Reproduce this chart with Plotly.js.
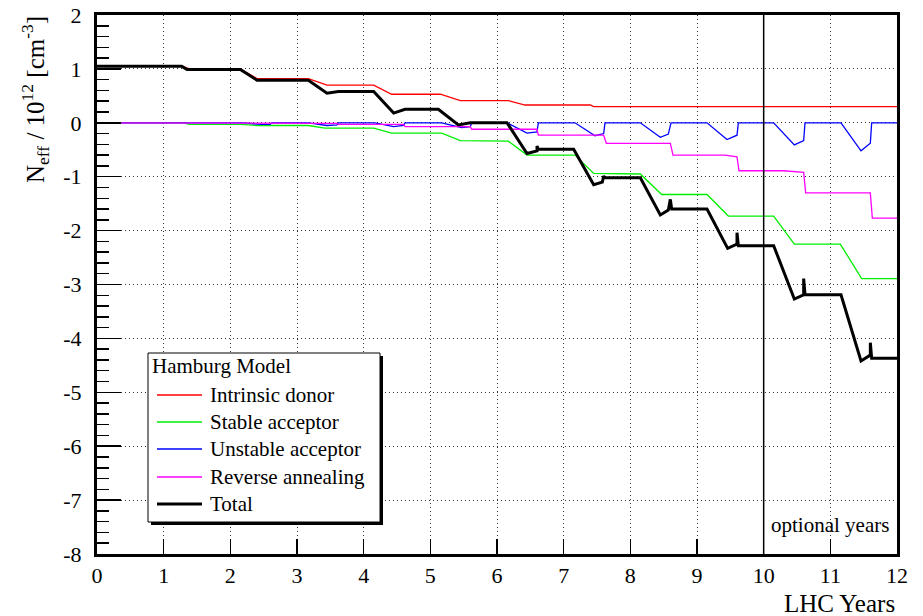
<!DOCTYPE html>
<html>
<head>
<meta charset="utf-8">
<script src="https://cdn.plot.ly/plotly-3.0.1.min.js"></script>
<style>html,body{margin:0;padding:0;background:#fff;}#chart{width:923px;height:616px;}</style>
</head>
<body>
<div id="chart"></div>
<script>
// ---- data ----
var donorYears  = [0, 1.27, 1.39, 2.15, 2.4, 3.17, 3.45, 4.15, 4.42, 5.15, 5.45, 6.17, 6.42, 7.4, 7.45, 12];
var donorValues = [1.05, 1.05, 1.0, 1.0, 0.82, 0.82, 0.70, 0.70, 0.53, 0.53, 0.41, 0.41, 0.33, 0.33, 0.30, 0.30];

var stableYears  = [0, 1.3, 1.38, 2.15, 2.4, 3.17, 3.42, 4.15, 4.42, 5.17, 5.45, 6.17, 6.45, 7.17, 7.45, 8.15, 8.47, 9.15, 9.47, 10.15, 10.46, 11.15, 11.47, 12];
var stableValues = [0, 0, -0.03, -0.03, -0.05, -0.05, -0.10, -0.10, -0.19, -0.19, -0.33, -0.34, -0.60, -0.60, -0.94, -0.95, -1.33, -1.33, -1.73, -1.73, -2.25, -2.25, -2.89, -2.89];

var unstableYears  = [0, 2.2, 2.45, 2.6, 2.62, 3.17, 3.45, 3.6, 3.62, 4.17, 4.45, 4.6, 4.62, 5.17, 5.47, 5.6, 5.62, 6.15, 6.45, 6.6, 6.62, 7.17, 7.47, 7.6, 7.62, 8.15, 8.45, 8.57, 8.61, 9.15, 9.45, 9.6, 9.62, 10.15, 10.46, 10.6, 10.62, 11.16, 11.46, 11.6, 11.62, 12];
var unstableValues = [0, 0, -0.03, -0.03, 0, 0, -0.05, -0.04, 0, 0, -0.07, -0.05, 0, 0, -0.09, -0.07, 0, 0, -0.19, -0.17, 0, 0, -0.24, -0.20, 0, 0, -0.27, -0.21, 0, 0, -0.31, -0.23, 0, 0, -0.41, -0.33, 0, 0, -0.52, -0.38, 0, 0];

var reverseYears  = [0, 2.6, 2.62, 3.6, 3.62, 4.6, 4.62, 5.6, 5.62, 6.6, 6.62, 7.6, 7.64, 8.6, 8.64, 9.42, 9.6, 9.63, 10.3, 10.6, 10.63, 11.6, 11.63, 12];
var reverseValues = [0, 0, -0.01, -0.01, -0.03, -0.03, -0.07, -0.07, -0.12, -0.12, -0.23, -0.23, -0.38, -0.38, -0.60, -0.60, -0.63, -0.89, -0.89, -0.92, -1.30, -1.30, -1.77, -1.77];

var totalYears  = [0, 1.27, 1.35, 2.15, 2.4, 3.17, 3.45, 3.62, 4.15, 4.45, 4.62, 5.12, 5.42, 5.6, 6.15, 6.45, 6.6, 6.6, 6.62, 7.15, 7.45, 7.58, 7.6, 7.62, 8.15, 8.45, 8.57, 8.6, 8.62, 9.15, 9.46, 9.6, 9.6, 9.62, 10.15, 10.46, 10.6, 10.6, 10.62, 11.16, 11.46, 11.6, 11.6, 11.62, 12];
var totalValues = [1.05, 1.05, 0.99, 0.99, 0.79, 0.79, 0.55, 0.58, 0.58, 0.18, 0.25, 0.25, -0.04, 0.0, 0.0, -0.57, -0.52, -0.43, -0.49, -0.49, -1.15, -1.10, -0.99, -1.02, -1.02, -1.71, -1.62, -1.42, -1.60, -1.60, -2.33, -2.25, -2.04, -2.28, -2.28, -3.27, -3.19, -2.89, -3.19, -3.19, -4.42, -4.31, -4.08, -4.37, -4.37];

var seriesNames = ['Intrinsic donor', 'Stable acceptor', 'Unstable acceptor', 'Reverse annealing', 'Total'];
var legendTitle = 'Hamburg Model';
var xTickValues = [0,1,2,3,4,5,6,7,8,9,10,11,12];
var yTickValues = [-8,-7,-6,-5,-4,-3,-2,-1,0,1,2];

var FONT = 'Liberation Serif';
var colors = ['#ff0000', '#00ee00', '#0000ff', '#ff00ff', '#000000'];
var widths = [1.3, 1.3, 1.3, 1.3, 3];

var xs = [donorYears, stableYears, unstableYears, reverseYears, totalYears];
var ys = [donorValues, stableValues, unstableValues, reverseValues, totalValues];
var traces = seriesNames.map(function(n, i){
  return {x: xs[i], y: ys[i], name: n, mode: 'lines', line: {color: colors[i], width: widths[i]}, showlegend: false};
});

function px2paperX(p){ return (p - 97) / 800; }
function px2paperY(p){ return (554 - p) / 539; }

var shapes = [
  {type: 'line', xref: 'x', yref: 'paper', x0: 10, x1: 10, y0: 0, y1: 1, line: {color: '#000', width: 1.5}, layer: 'above'},
  {type: 'rect', xref: 'paper', yref: 'paper', x0: px2paperX(151), x1: px2paperX(383), y0: px2paperY(525), y1: px2paperY(356), fillcolor: '#000', line: {width: 0}, layer: 'above'},
  {type: 'rect', xref: 'paper', yref: 'paper', x0: px2paperX(148), x1: px2paperX(380), y0: px2paperY(522), y1: px2paperY(353), fillcolor: '#fff', line: {color: '#000', width: 1}, layer: 'above'}
];
var annotations = [
  {text: 'optional years', xref: 'x', yref: 'y', x: 11.0, y: -7.46, showarrow: false, xanchor: 'center', yanchor: 'middle', font: {family: FONT, size: 21, color: '#000'}},
  {text: 'LHC Years', xref: 'paper', yref: 'paper', x: 1, y: px2paperY(603), showarrow: false, xanchor: 'right', yanchor: 'middle', font: {family: FONT, size: 25, color: '#000'}},
  {text: 'N<sub>eff</sub> / 10<sup>12</sup> [cm<sup>-3</sup>]', xref: 'paper', yref: 'paper', x: px2paperX(35), y: px2paperY(100), showarrow: false, xanchor: 'center', yanchor: 'middle', textangle: -90, font: {family: FONT, size: 25, color: '#000'}},
  {text: legendTitle, xref: 'paper', yref: 'paper', x: px2paperX(152), y: px2paperY(366), showarrow: false, xanchor: 'left', yanchor: 'middle', xshift: -2, font: {family: FONT, size: 21, color: '#000'}}
];
var rowY = [395, 422, 449, 477, 504];
seriesNames.forEach(function(n, i){
  shapes.push({type: 'line', xref: 'paper', yref: 'paper', x0: px2paperX(157), x1: px2paperX(202), y0: px2paperY(rowY[i]), y1: px2paperY(rowY[i]), line: {color: colors[i], width: i === 4 ? 3 : 1.5}, layer: 'above'});
  annotations.push({text: n, xref: 'paper', yref: 'paper', x: px2paperX(208), y: px2paperY(rowY[i]), showarrow: false, xanchor: 'left', yanchor: 'middle', font: {family: FONT, size: 21, color: '#000'}});
});

var layout = {
  width: 923, height: 616,
  margin: {l: 97, r: 26, t: 15, b: 62, pad: 0},
  paper_bgcolor: '#ffffff', plot_bgcolor: '#ffffff',
  font: {family: FONT, color: '#000000'},
  showlegend: false,
  xaxis: {
    range: [0, 12], tickvals: xTickValues, ticktext: xTickValues.map(String),
    ticks: 'inside', ticklen: 15, tickwidth: 1.5, tickcolor: '#000',
    showline: true, linewidth: 3, linecolor: '#000', mirror: true,
    showgrid: true, gridcolor: '#333', gridwidth: 1, griddash: '1px,3px',
    zeroline: false, tickfont: {family: FONT, size: 22, color: '#000'}
  },
  yaxis: {
    range: [-8, 2], tickvals: yTickValues, ticktext: yTickValues.map(String),
    ticks: 'inside', ticklen: 24, tickwidth: 1.5, tickcolor: '#000',
    minor: {dtick: 0.2, tick0: 0, ticks: 'inside', ticklen: 12, tickwidth: 1.5, tickcolor: '#000', showgrid: false},
    showline: true, linewidth: 3, linecolor: '#000', mirror: true,
    showgrid: true, gridcolor: '#333', gridwidth: 1, griddash: '1px,3px',
    zeroline: false, tickfont: {family: FONT, size: 22, color: '#000'},
    ticklabelstandoff: 8
  },
  shapes: shapes,
  annotations: annotations
};

Plotly.newPlot('chart', traces, layout, {displayModeBar: false, staticPlot: true});
</script>
</body>
</html>
